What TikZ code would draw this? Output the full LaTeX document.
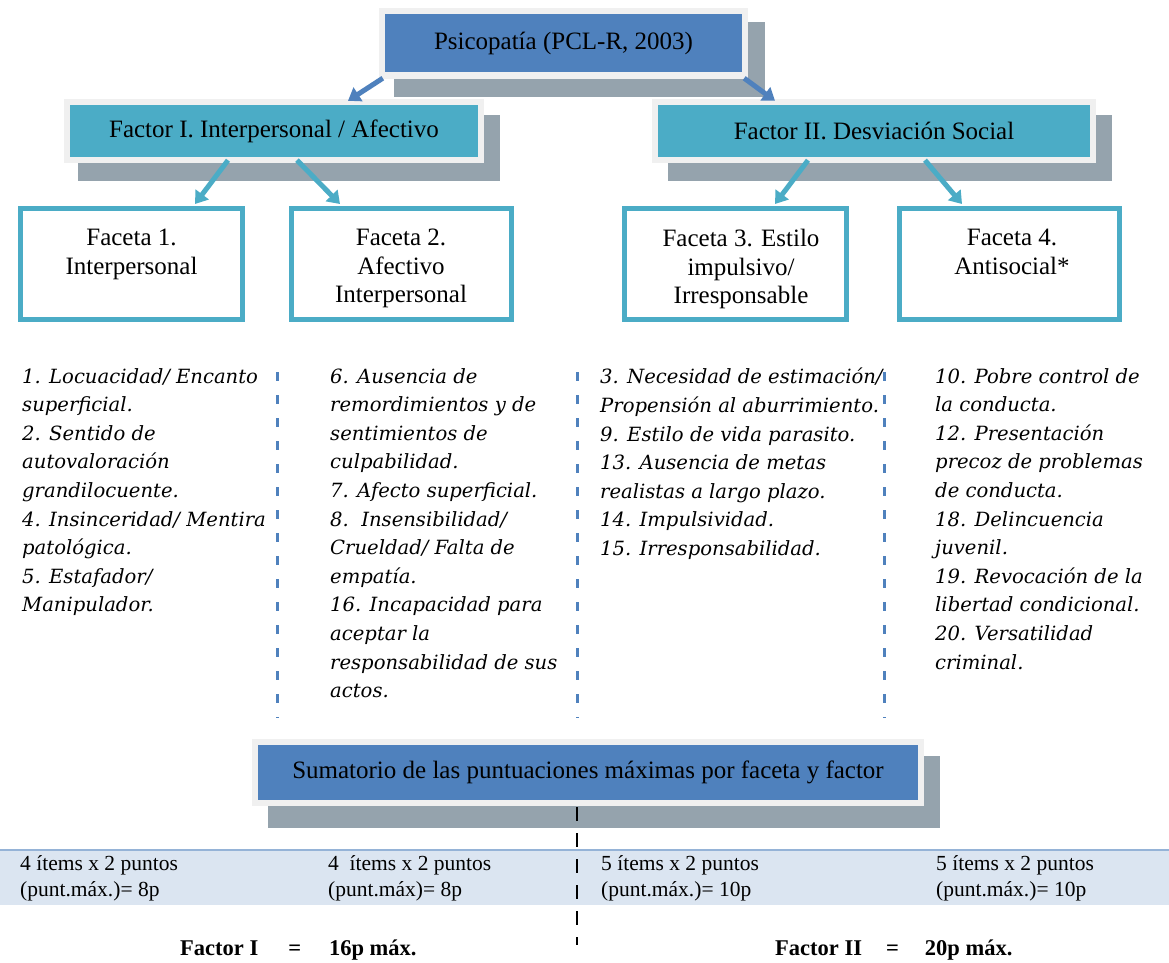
\documentclass[tikz,border=0pt]{standalone}
\usepackage{fontspec}
\setmainfont{Liberation Serif}
\newfontfamily\colfont{DejaVu Serif}
\usetikzlibrary{arrows.meta,calc}
\definecolor{dblue}{HTML}{4F81BD}
\definecolor{tealb}{HTML}{4BACC6}
\definecolor{shad}{HTML}{95A3AD}
\definecolor{halo}{HTML}{F0F0F0}
\definecolor{bandfill}{HTML}{DBE5F1}
\definecolor{bandline}{HTML}{95B3D7}
\begin{document}
\begin{tikzpicture}[x=1pt,y=-1pt,
  mainbox/.style={fill=dblue, inner sep=0pt, align=center, font=\fontsize{25}{29}\selectfont},
  facbox/.style={fill=tealb, inner sep=0pt, align=center, font=\fontsize{25}{29}\selectfont},
  facetbox/.style={draw=tealb, line width=5pt, fill=white, inner sep=0pt, minimum height=111pt},
  ftxt/.style={inner sep=0pt, align=center, font=\fontsize{25}{28.5}\selectfont},
  coltxt/.style={inner sep=0pt, align=left, font=\colfont\itshape\fontsize{19.6}{28.6}\selectfont},
  bandtxt/.style={inner sep=0pt, align=left, font=\fontsize{21.5}{26}\selectfont},
  sumtxt/.style={inner sep=0pt, font=\bfseries\fontsize{22.5}{26}\selectfont},
  arrB/.style={draw=dblue, line width=5pt, -{Triangle[width=16pt,length=12pt]}},
  arrT/.style={draw=tealb, line width=5pt, -{Triangle[width=16pt,length=12pt]}},
  sepline/.style={draw=dblue, line width=3pt, dash pattern=on 9pt off 14pt},
  shadowbox/.style={fill=shad},
  halobox/.style={fill=halo}
]
\useasboundingbox (0,0) rectangle (1169,962);
\fill[white] (0,0) rectangle (1169,962);

% ---- top box
\fill[shadowbox] (394,22) rectangle (765,97);
\fill[halobox] (379,8) rectangle (748,79);
\node[mainbox, minimum width=357pt, minimum height=58pt] (psi) at (563.5,43) {Psicopat\'{\i}a (PCL-R, 2003)};

% ---- factor boxes
\fill[shadowbox] (78,115) rectangle (500,181);
\fill[halobox] (64,99) rectangle (484,163);
\node[facbox, minimum width=408pt, minimum height=52pt] (fac1) at (274,131) {Factor I. Interpersonal / Afectivo};

\fill[shadowbox] (668,115) rectangle (1112,181);
\fill[halobox] (652,99) rectangle (1096,163);
\node[facbox, minimum width=432pt, minimum height=52pt] (fac2) at (874,131) {Factor II. Desviaci\'on Social};

% ---- facet boxes
\node[facetbox, minimum width=222pt] (f1) at (131.5,264) {};
\node[facetbox, minimum width=220pt] (f2) at (401,264) {};
\node[facetbox, minimum width=222pt] (f3) at (735,264) {};
\node[facetbox, minimum width=220pt] (f4) at (1009,264) {};

\node[ftxt, anchor=north] (f1t) at (131.5,229) {Faceta 1.\\Interpersonal};
\node[ftxt, anchor=north] (f2t) at (401,229) {Faceta 2.\\Afectivo\\Interpersonal};
\node[ftxt, anchor=north] (f3t) at (741,229) {Faceta 3. Estilo\\impulsivo/\\Irresponsable};
\node[ftxt, anchor=north] (f4t) at (1012,229) {Faceta 4.\\Antisocial*};

% ---- arrows
\draw[arrB] ($(psi.south west)+(-2,6)$) -- ($(fac1.north)+(74,-4)$);
\draw[arrB] ($(psi.south east)+(2,6)$) -- ($(fac2.north)+(-99,-4)$);
\draw[arrT] ($(fac1.south)+(-46,3)$) -- ($(f1.north)+(63.5,-2)$);
\draw[arrT] ($(fac1.south)+(23,3)$) -- ($(f2.north)+(-61,-2)$);
\draw[arrT] ($(fac2.south)+(-66,3)$) -- ($(f3.north)+(40,-2)$);
\draw[arrT] ($(fac2.south)+(51,3)$) -- ($(f4.north)+(-47,-2)$);

% ---- item columns
\node[coltxt, anchor=north west] (c1) at (22,368) {1. Locuacidad/ Encanto\\superficial.\\2. Sentido de\\autovaloraci\'on\\grandilocuente.\\4. Insinceridad/ Mentira\\patol\'ogica.\\5. Estafador/\\Manipulador.};
\node[coltxt, anchor=north west] (c2) at (330,368) {6. Ausencia de\\remordimientos y de\\sentimientos de\\culpabilidad.\\7. Afecto superficial.\\8.\ \ Insensibilidad/\\Crueldad/ Falta de\\empat\'{\i}a.\\16. Incapacidad para\\aceptar la\\responsabilidad de sus\\actos.};
\node[coltxt, anchor=north west] (c3) at (600,368) {3. Necesidad de estimaci\'on/\\Propensi\'on al aburrimiento.\\9. Estilo de vida parasito.\\13. Ausencia de metas\\realistas a largo plazo.\\14. Impulsividad.\\15. Irresponsabilidad.};
\node[coltxt, anchor=north west] (c4) at (935,368) {10. Pobre control de\\la conducta.\\12. Presentaci\'on\\precoz de problemas\\de conducta.\\18. Delincuencia\\juvenil.\\19. Revocaci\'on de la\\libertad condicional.\\20. Versatilidad\\criminal.};

\draw[sepline] (277,372) -- (277,718);
\draw[sepline] (577,372) -- (577,718);
\draw[sepline] (884,372) -- (884,718);

% ---- sum box
\fill[shadowbox] (268,756) rectangle (940,828);
\fill[halobox] (252,739) rectangle (924,806);
\node[mainbox, minimum width=660pt, minimum height=55pt] (sum) at (588,772.5) {Sumatorio de las puntuaciones m\'aximas por faceta y factor};

% ---- band
\fill[bandfill] (0,850) rectangle (1169,905);
\draw[bandline, line width=2pt] (0,850) -- (1169,850);

\draw[black, line width=2.5pt, dash pattern=on 14pt off 12pt] ($(sum.south)+(-11,7)$) -- ++(0,138);

\node[bandtxt, anchor=north west] (b1) at (20,855) {4 \'{\i}tems x 2 puntos\\(punt.m\'ax.)= 8p};
\node[bandtxt, anchor=north west] (b2) at (328,855) {4\ \ \'{\i}tems x 2 puntos\\(punt.m\'ax)= 8p};
\node[bandtxt, anchor=north west] (b3) at (601,855) {5 \'{\i}tems x 2 puntos\\(punt.m\'ax.)= 10p};
\node[bandtxt, anchor=north west] (b4) at (936,855) {5 \'{\i}tems x 2 puntos\\(punt.m\'ax.)= 10p};

\node[sumtxt, anchor=base west] (t1) at (180,955) {Factor I\hspace{30pt}=\hspace{28pt}16p m\'ax.};
\node[sumtxt, anchor=base west] (t2) at (775,955) {Factor II\hspace{24pt}=\hspace{26pt}20p m\'ax.};
\end{tikzpicture}
\end{document}
